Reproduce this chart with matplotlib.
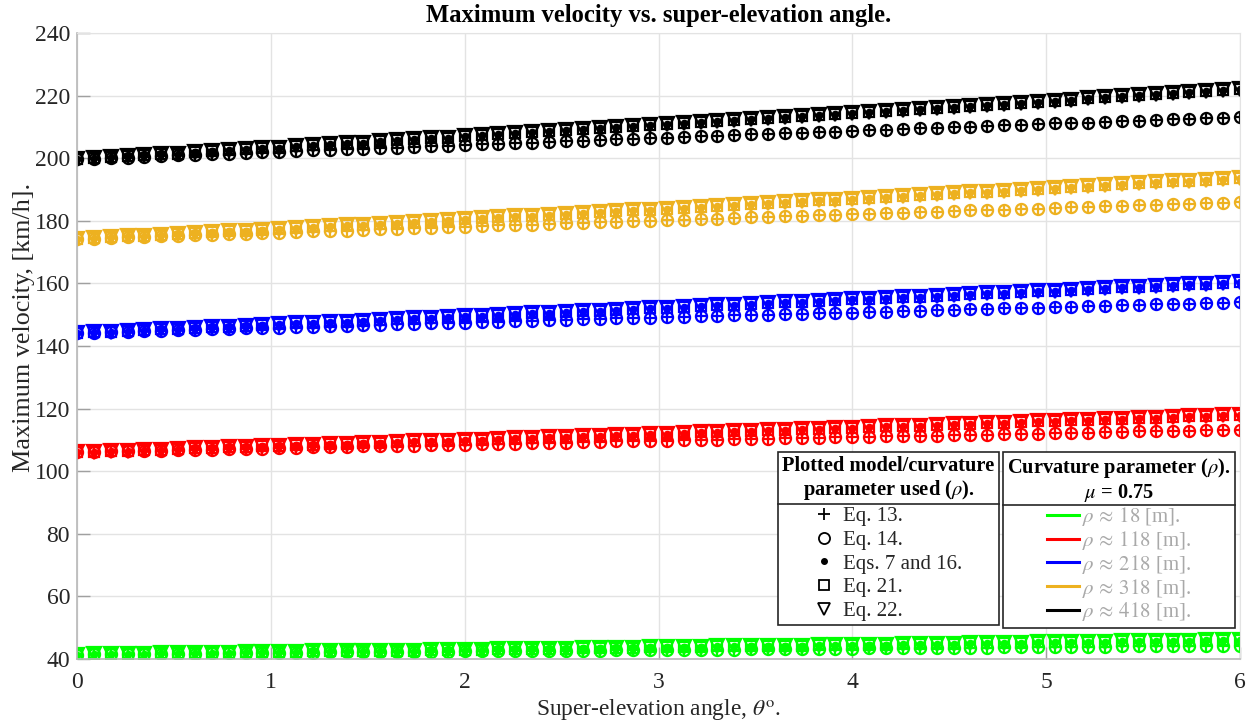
import matplotlib
matplotlib.use("Agg")
import matplotlib.pyplot as plt
from matplotlib.lines import Line2D

plt.rcParams["font.family"] = ["Liberation Serif", "DejaVu Serif"]
plt.rcParams["mathtext.fontset"] = "stix"

# Super-elevation angle samples [deg]
theta = [0.000, 0.087, 0.174, 0.261, 0.348, 0.435, 0.522, 0.609, 0.696, 0.783,
         0.870, 0.957, 1.043, 1.130, 1.217, 1.304, 1.391, 1.478, 1.565, 1.652,
         1.739, 1.826, 1.913, 2.000, 2.087, 2.174, 2.261, 2.348, 2.435, 2.522,
         2.609, 2.696, 2.783, 2.870, 2.957, 3.043, 3.130, 3.217, 3.304, 3.391,
         3.478, 3.565, 3.652, 3.739, 3.826, 3.913, 4.000, 4.087, 4.174, 4.261,
         4.348, 4.435, 4.522, 4.609, 4.696, 4.783, 4.870, 4.957, 5.043, 5.130,
         5.217, 5.304, 5.391, 5.478, 5.565, 5.652, 5.739, 5.826, 5.913, 6.000]

# Maximum velocity [km/h]; "low" = Eqs. 13/14, "high" = Eqs. 7&16, 21, 22
v_low_18 = [41.4, 41.5, 41.5, 41.6, 41.6, 41.6, 41.7, 41.7, 41.8, 41.8,
            41.8, 41.9, 41.9, 42.0, 42.0, 42.1, 42.1, 42.1, 42.2, 42.2,
            42.3, 42.3, 42.3, 42.4, 42.4, 42.5, 42.5, 42.5, 42.6, 42.6,
            42.7, 42.7, 42.8, 42.8, 42.8, 42.9, 42.9, 43.0, 43.0, 43.0,
            43.1, 43.1, 43.2, 43.2, 43.2, 43.3, 43.3, 43.4, 43.4, 43.4,
            43.5, 43.5, 43.6, 43.6, 43.6, 43.7, 43.7, 43.8, 43.8, 43.8,
            43.9, 43.9, 44.0, 44.0, 44.0, 44.1, 44.1, 44.2, 44.2, 44.2]
v_high_18 = [41.4, 41.5, 41.6, 41.6, 41.7, 41.8, 41.8, 41.9, 42.0, 42.0,
             42.1, 42.2, 42.2, 42.3, 42.4, 42.4, 42.5, 42.5, 42.6, 42.7,
             42.7, 42.8, 42.9, 42.9, 43.0, 43.1, 43.1, 43.2, 43.3, 43.3,
             43.4, 43.5, 43.6, 43.6, 43.7, 43.8, 43.8, 43.9, 44.0, 44.0,
             44.1, 44.2, 44.2, 44.3, 44.4, 44.4, 44.5, 44.6, 44.6, 44.7,
             44.8, 44.8, 44.9, 45.0, 45.0, 45.1, 45.2, 45.3, 45.3, 45.4,
             45.5, 45.5, 45.6, 45.7, 45.7, 45.8, 45.9, 46.0, 46.0, 46.1]
v_low_118 = [106.1, 106.2, 106.3, 106.4, 106.5, 106.6, 106.7, 106.8, 106.9, 107.0,
             107.1, 107.2, 107.4, 107.5, 107.6, 107.7, 107.8, 107.9, 108.0, 108.1,
             108.2, 108.3, 108.4, 108.5, 108.6, 108.7, 108.8, 108.9, 109.0, 109.1,
             109.2, 109.4, 109.5, 109.6, 109.7, 109.8, 109.9, 110.0, 110.1, 110.2,
             110.3, 110.4, 110.5, 110.6, 110.7, 110.8, 110.9, 111.0, 111.1, 111.2,
             111.3, 111.4, 111.5, 111.6, 111.7, 111.8, 111.9, 112.0, 112.1, 112.2,
             112.3, 112.4, 112.6, 112.7, 112.8, 112.9, 113.0, 113.1, 113.2, 113.3]
v_high_118 = [106.1, 106.2, 106.4, 106.6, 106.7, 106.9, 107.1, 107.3, 107.4, 107.6,
              107.8, 107.9, 108.1, 108.3, 108.4, 108.6, 108.8, 108.9, 109.1, 109.3,
              109.5, 109.6, 109.8, 110.0, 110.1, 110.3, 110.5, 110.6, 110.8, 111.0,
              111.2, 111.3, 111.5, 111.7, 111.9, 112.0, 112.2, 112.4, 112.5, 112.7,
              112.9, 113.1, 113.2, 113.4, 113.6, 113.8, 113.9, 114.1, 114.3, 114.5,
              114.6, 114.8, 115.0, 115.2, 115.3, 115.5, 115.7, 115.9, 116.0, 116.2,
              116.4, 116.6, 116.8, 116.9, 117.1, 117.3, 117.5, 117.7, 117.8, 118.0]
v_low_218 = [144.2, 144.3, 144.5, 144.6, 144.8, 144.9, 145.0, 145.2, 145.3, 145.5,
             145.6, 145.8, 145.9, 146.1, 146.2, 146.3, 146.5, 146.6, 146.8, 146.9,
             147.1, 147.2, 147.4, 147.5, 147.6, 147.8, 147.9, 148.1, 148.2, 148.3,
             148.5, 148.6, 148.8, 148.9, 149.1, 149.2, 149.3, 149.5, 149.6, 149.8,
             149.9, 150.0, 150.2, 150.3, 150.5, 150.6, 150.7, 150.9, 151.0, 151.2,
             151.3, 151.4, 151.6, 151.7, 151.9, 152.0, 152.1, 152.3, 152.4, 152.6,
             152.7, 152.8, 153.0, 153.1, 153.3, 153.4, 153.5, 153.7, 153.8, 153.9]
v_high_218 = [144.2, 144.4, 144.6, 144.9, 145.1, 145.3, 145.5, 145.8, 146.0, 146.2,
              146.5, 146.7, 146.9, 147.2, 147.4, 147.6, 147.8, 148.1, 148.3, 148.5,
              148.8, 149.0, 149.2, 149.5, 149.7, 149.9, 150.2, 150.4, 150.6, 150.9,
              151.1, 151.3, 151.6, 151.8, 152.0, 152.3, 152.5, 152.7, 153.0, 153.2,
              153.4, 153.7, 153.9, 154.2, 154.4, 154.6, 154.9, 155.1, 155.3, 155.6,
              155.8, 156.1, 156.3, 156.5, 156.8, 157.0, 157.3, 157.5, 157.7, 158.0,
              158.2, 158.5, 158.7, 158.9, 159.2, 159.4, 159.7, 159.9, 160.2, 160.4]
v_low_318 = [174.1, 174.3, 174.5, 174.7, 174.8, 175.0, 175.2, 175.4, 175.5, 175.7,
             175.9, 176.1, 176.2, 176.4, 176.6, 176.8, 176.9, 177.1, 177.3, 177.4,
             177.6, 177.8, 178.0, 178.1, 178.3, 178.5, 178.7, 178.8, 179.0, 179.2,
             179.3, 179.5, 179.7, 179.9, 180.0, 180.2, 180.4, 180.5, 180.7, 180.9,
             181.1, 181.2, 181.4, 181.6, 181.7, 181.9, 182.1, 182.2, 182.4, 182.6,
             182.7, 182.9, 183.1, 183.3, 183.4, 183.6, 183.8, 183.9, 184.1, 184.3,
             184.4, 184.6, 184.8, 184.9, 185.1, 185.3, 185.4, 185.6, 185.8, 185.9]
v_high_318 = [174.1, 174.4, 174.7, 175.0, 175.2, 175.5, 175.8, 176.1, 176.3, 176.6,
              176.9, 177.2, 177.5, 177.7, 178.0, 178.3, 178.6, 178.8, 179.1, 179.4,
              179.7, 180.0, 180.2, 180.5, 180.8, 181.1, 181.4, 181.6, 181.9, 182.2,
              182.5, 182.8, 183.1, 183.3, 183.6, 183.9, 184.2, 184.5, 184.8, 185.0,
              185.3, 185.6, 185.9, 186.2, 186.5, 186.8, 187.0, 187.3, 187.6, 187.9,
              188.2, 188.5, 188.8, 189.1, 189.3, 189.6, 189.9, 190.2, 190.5, 190.8,
              191.1, 191.4, 191.7, 192.0, 192.3, 192.6, 192.8, 193.1, 193.4, 193.7]
v_low_418 = [199.6, 199.8, 200.0, 200.2, 200.5, 200.7, 200.9, 201.1, 201.3, 201.5,
             201.7, 201.9, 202.1, 202.3, 202.5, 202.7, 202.9, 203.0, 203.2, 203.4,
             203.6, 203.8, 204.0, 204.2, 204.4, 204.6, 204.8, 205.0, 205.2, 205.4,
             205.6, 205.8, 206.0, 206.2, 206.4, 206.6, 206.8, 207.0, 207.2, 207.4,
             207.6, 207.8, 208.0, 208.2, 208.4, 208.5, 208.7, 208.9, 209.1, 209.3,
             209.5, 209.7, 209.9, 210.1, 210.3, 210.5, 210.7, 210.9, 211.1, 211.3,
             211.4, 211.6, 211.8, 212.0, 212.2, 212.4, 212.6, 212.8, 213.0, 213.2]
v_high_418 = [199.6, 200.0, 200.3, 200.6, 200.9, 201.2, 201.5, 201.9, 202.2, 202.5,
              202.8, 203.1, 203.4, 203.8, 204.1, 204.4, 204.7, 205.0, 205.4, 205.7,
              206.0, 206.3, 206.6, 207.0, 207.3, 207.6, 207.9, 208.3, 208.6, 208.9,
              209.2, 209.5, 209.9, 210.2, 210.5, 210.8, 211.2, 211.5, 211.8, 212.1,
              212.5, 212.8, 213.1, 213.5, 213.8, 214.1, 214.4, 214.8, 215.1, 215.4,
              215.8, 216.1, 216.4, 216.8, 217.1, 217.4, 217.7, 218.1, 218.4, 218.7,
              219.1, 219.4, 219.8, 220.1, 220.4, 220.8, 221.1, 221.4, 221.8, 222.1]

radius_labels = [r"$\rho\,\approx\,18$ [m].", r"$\rho\,\approx\,118$ [m].",
                 r"$\rho\,\approx\,218$ [m].", r"$\rho\,\approx\,318$ [m].",
                 r"$\rho\,\approx\,418$ [m]."]
radius_colors = ["#00ff00", "#ff0000", "#0000ff", "#edb120", "#000000"]
low_series = [v_low_18, v_low_118, v_low_218, v_low_318, v_low_418]
high_series = [v_high_18, v_high_118, v_high_218, v_high_318, v_high_418]

model_labels = ["Eq. 13.", "Eq. 14.", "Eqs. 7 and 16.", "Eq. 21.", "Eq. 22."]

W, H = 1252, 724
fig = plt.figure(figsize=(W / 100, H / 100), dpi=100)
ax = fig.add_axes([77 / W, 1 - 659 / H, (1240 - 77) / W, (659 - 33) / H])

tick_col = "#262626"
grid_col = "#e3e3e3"

for col, lo, hi in zip(radius_colors, low_series, high_series):
    ax.plot(theta, lo, ls="none", marker="+", ms=9, mew=1.6, color=col)
    ax.plot(theta, lo, ls="none", marker="o", ms=8, mew=1.6, mfc="none", mec=col)
    ax.plot(theta, hi, ls="none", marker=".", ms=9, color=col)
    ax.plot(theta, hi, ls="none", marker="s", ms=6.5, mew=1.6, mfc="none", mec=col)
    ax.plot(theta, hi, ls="none", marker="v", ms=9.5, mew=1.6, mfc="none", mec=col)

ax.set_xlim(0, 6)
ax.set_ylim(40, 240)
ax.set_xticks(range(0, 7))
ax.set_yticks(range(40, 241, 20))
ax.grid(True, color=grid_col, linewidth=1.0)
ax.set_axisbelow(True)
for side in ("top", "right"):
    ax.spines[side].set_color(grid_col)
for side in ("left", "bottom"):
    ax.spines[side].set_color("#b8b8b8")
    ax.spines[side].set_linewidth(1.2)
ax.tick_params(axis="both", direction="in", length=9, width=1.0, color="#a0a0a0",
               labelsize=17, labelcolor=tick_col)
ax.tick_params(axis="x", pad=9)
ax.tick_params(axis="y", pad=5)

ax.set_title("Maximum velocity vs. super-elevation angle.", fontsize=17.7,
             fontweight="bold", pad=8)
ax.set_xlabel(r"Super-elevation angle, $\theta^{\mathrm{o}}$.", fontsize=16.8,
              color=tick_col, labelpad=3)
ax.set_ylabel("Maximum velocity, [km/h].", fontsize=18.8, color=tick_col)
ax.yaxis.set_label_coords(-0.0365, 0.53)

leg_kw = dict(loc="upper left", bbox_transform=fig.transFigure, borderaxespad=0,
              fontsize=15, title_fontproperties={"weight": "bold", "size": 14.7},
              fancybox=False, framealpha=1, edgecolor="#262626",
              borderpad=0.2, alignment="center")

# Legend of plotted models (marker shapes)
model_handles = [
    Line2D([], [], ls="none", marker="+", ms=9, mew=1.3, color="k"),
    Line2D([], [], ls="none", marker="o", ms=8, mew=1.3, mfc="none", mec="k"),
    Line2D([], [], ls="none", marker=".", ms=8, color="k"),
    Line2D([], [], ls="none", marker="s", ms=6.5, mew=1.3, mfc="none", mec="k"),
    Line2D([], [], ls="none", marker="v", ms=9, mew=1.3, mfc="none", mec="k"),
]
leg1 = ax.legend(model_handles, model_labels,
                 title="Plotted model/curvature\n" + r"parameter used ($\rho$).",
                 bbox_to_anchor=(778 / W, 1 - 452 / H), labelspacing=0.2,
                 handlelength=1.0, handletextpad=0.41, **leg_kw)
for txt in leg1.get_texts():
    txt.set_color(tick_col)
ax.add_artist(leg1)

# Legend of curvature radii (colours)
radius_handles = [Line2D([], [], color=c, lw=2.2) for c in radius_colors]
leg2 = ax.legend(radius_handles, radius_labels,
                 title="Curvature parameter (" + r"$\rho$" + ").\n" + r"$\mu$ = 0.75",
                 bbox_to_anchor=(1003 / W, 1 - 452 / H), labelspacing=0.04,
                 handlelength=1.54, handletextpad=0.15, **leg_kw)
for txt in leg2.get_texts():
    txt.set_color("#a9a9a9")

for leg in (leg1, leg2):
    leg.get_frame().set_linewidth(1.2)
    leg.get_title().set_multialignment("center")
    leg.get_title().set_linespacing(1.13)

# Divider between each legend title and its entries
fig.canvas.draw()
renderer = fig.canvas.get_renderer()
inv = fig.transFigure.inverted()
for leg in (leg1, leg2):
    fb = leg.get_frame().get_window_extent(renderer)
    tb = leg.get_title().get_window_extent(renderer)
    hb = leg._legend_handle_box.get_window_extent(renderer)
    y = 0.5 * (tb.y0 + hb.y1)
    (x0, yy), (x1, _) = inv.transform([(fb.x0, y), (fb.x1, y)])
    fig.add_artist(Line2D([x0, x1], [yy, yy], transform=fig.transFigure,
                          color="#262626", lw=1.2, zorder=10))

fig.savefig("out.png", dpi=100)
